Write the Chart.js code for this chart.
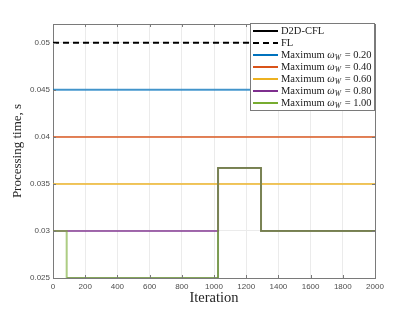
<!DOCTYPE html>
<html>
<head>
<meta charset="utf-8">
<script src="https://cdn.jsdelivr.net/npm/chart.js@4.4.1/dist/chart.umd.min.js"></script>
<style>
  html, body { margin: 0; padding: 0; background: #fff; }
  #wrap { width: 415px; height: 312px; }
</style>
</head>
<body>
<div id="wrap"><canvas id="miGrafica"></canvas></div>
<script>
// values
const xTicks = [0, 200, 400, 600, 800, 1000, 1200, 1400, 1600, 1800, 2000];
const yTicks = [0.025, 0.03, 0.035, 0.04, 0.045, 0.05];

const flatIter = [0, 2000];
const flTime = [0.05, 0.05];
const w020Time = [0.045, 0.045];
const w040Time = [0.04, 0.04];
const w060Time = [0.035, 0.035];
const w080Iter = [0, 1025, 1292, 2000];
const w080Time = [0.03, 0.0367, 0.03, 0.03];
const w100Iter = [0, 85, 1025, 1292, 2000];
const w100Time = [0.03, 0.025, 0.0367, 0.03, 0.03];
const d2dIter = [85, 1025, 1292, 2000];
const d2dTime = [0.025, 0.0367, 0.03, 0.03];

const toPts = (xs, ys) => xs.map((x, i) => ({ x: x, y: ys[i] }));

const axisGrey = '#7a7a7a';

// draws top/right box and MATLAB-style inward ticks
const boxTicks = {
  id: 'boxTicks',
  afterDatasetsDraw(chart) {
    const { ctx, chartArea: a, scales } = chart;
    ctx.save();
    ctx.strokeStyle = axisGrey;
    ctx.lineWidth = 1;
    ctx.beginPath();
    ctx.moveTo(a.left, a.top + 0.5); ctx.lineTo(a.right + 0.5, a.top + 0.5);
    ctx.lineTo(a.right + 0.5, a.bottom);
    xTicks.forEach(v => {
      const px = Math.round(scales.x.getPixelForValue(v)) + 0.5;
      ctx.moveTo(px, a.bottom); ctx.lineTo(px, a.bottom - 3);
      ctx.moveTo(px, a.top); ctx.lineTo(px, a.top + 3);
    });
    yTicks.forEach(v => {
      const py = Math.round(scales.y.getPixelForValue(v)) + 0.5;
      ctx.moveTo(a.left, py); ctx.lineTo(a.left + 3, py);
      ctx.moveTo(a.right, py); ctx.lineTo(a.right - 3, py);
    });
    ctx.stroke();
    ctx.restore();
  }
};

// boxed legend at the upper right, with ω_W written in italics
const legendBox = {
  id: 'legendBox',
  afterDraw(chart) {
    const { ctx, chartArea: a } = chart;
    const ds = chart.data.datasets;
    const rowH = 12, w = 125;
    const x0 = a.right - w, y0 = a.top - 1;
    const h = ds.length * rowH + 4;
    ctx.save();
    ctx.fillStyle = '#fff';
    ctx.fillRect(x0, y0, w, h);
    ctx.strokeStyle = axisGrey;
    ctx.lineWidth = 1;
    ctx.strokeRect(x0 + 0.5, y0 + 0.5, w - 1, h - 1);
    ds.forEach((d, i) => {
      const y = y0 + 8 + i * rowH;
      ctx.strokeStyle = d.legendColor || d.borderColor;
      ctx.lineWidth = 2;
      ctx.setLineDash(d.borderDash || []);
      ctx.beginPath();
      ctx.moveTo(x0 + 3, y); ctx.lineTo(x0 + 28, y);
      ctx.stroke();
      ctx.setLineDash([]);
      ctx.fillStyle = '#1a1a1a';
      ctx.textBaseline = 'middle';
      const norm = '10.5px "Liberation Serif"';
      const ital = 'italic 10.5px "Liberation Serif"';
      let x = x0 + 31;
      const parts = d.label.split('ω_W');
      ctx.font = norm;
      ctx.fillText(parts[0], x, y);
      x += ctx.measureText(parts[0]).width;
      if (parts.length > 1) {
        ctx.font = ital;
        ctx.fillText('ω', x, y);
        x += ctx.measureText('ω').width;
        ctx.font = 'italic 7.5px "Liberation Serif"';
        ctx.fillText('W', x, y + 3);
        x += ctx.measureText('W').width + 1;
        ctx.font = norm;
        ctx.fillText(parts[1], x, y);
      }
    });
    ctx.restore();
  }
};

const miGrafica = document.getElementById('miGrafica').getContext('2d');
const verGrafica = new Chart(miGrafica, {
  type: 'line',
  data: {
    datasets: [
      { label: 'D2D-CFL', data: toPts(d2dIter, d2dTime), borderColor: '#3a3a3a', borderWidth: 1.2, legendColor: '#000', order: 10 },
      { label: 'FL', data: toPts(flatIter, flTime), borderColor: '#000', borderDash: [6, 4], order: 9 },
      { label: 'Maximum ω_W = 0.20', data: toPts(flatIter, w020Time), borderColor: 'rgba(0,114,189,0.72)', legendColor: '#0072BD', order: 5 },
      { label: 'Maximum ω_W = 0.40', data: toPts(flatIter, w040Time), borderColor: 'rgba(217,83,25,0.72)', legendColor: '#D95319', order: 4 },
      { label: 'Maximum ω_W = 0.60', data: toPts(flatIter, w060Time), borderColor: 'rgba(237,177,32,0.72)', legendColor: '#EDB120', order: 3 },
      { label: 'Maximum ω_W = 0.80', data: toPts(w080Iter, w080Time), borderColor: 'rgba(126,47,142,0.72)', legendColor: '#7E2F8E', order: 2 },
      { label: 'Maximum ω_W = 1.00', data: toPts(w100Iter, w100Time), borderColor: 'rgba(119,172,48,0.6)', legendColor: '#77AC30', order: 1 }
    ]
  },
  options: {
    animation: false,
    responsive: true,
    maintainAspectRatio: false,
    layout: { padding: { left: 0, right: 40, top: 24, bottom: 0 } },
    elements: {
      line: { borderWidth: 2, stepped: true, tension: 0, fill: false },
      point: { radius: 0 }
    },
    plugins: {
      legend: { display: false },
      tooltip: { enabled: false }
    },
    scales: {
      x: {
        type: 'linear',
        min: 0,
        max: 2000,
        afterBuildTicks: s => { s.ticks = xTicks.map(v => ({ value: v })); },
        afterFit: s => { s.height = 34; },
        grid: { color: '#ebebeb', drawTicks: false },
        border: { color: axisGrey },
        ticks: {
          padding: 4,
          maxRotation: 0,
          color: '#4d4d4d',
          font: { family: '"Liberation Sans"', size: 8 },
          callback: v => String(v)
        },
        title: {
          display: true,
          text: 'Iteration',
          color: '#262626',
          font: { family: '"Liberation Serif"', size: 14.5 },
          padding: { top: 0, bottom: 5 }
        }
      },
      y: {
        type: 'linear',
        min: 0.025,
        max: 0.052,
        afterBuildTicks: s => { s.ticks = yTicks.map(v => ({ value: v })); },
        afterFit: s => { s.width = 53; },
        grid: { color: '#ebebeb', drawTicks: false },
        border: { color: axisGrey },
        ticks: {
          padding: 3,
          color: '#4d4d4d',
          font: { family: '"Liberation Sans"', size: 8 },
          callback: v => String(v)
        },
        title: {
          display: true,
          text: 'Processing time, s',
          color: '#262626',
          font: { family: '"Liberation Serif"', size: 13 },
          padding: { top: 10, bottom: 0 }
        }
      }
    }
  },
  plugins: [boxTicks, legendBox]
});
</script>
</body>
</html>
